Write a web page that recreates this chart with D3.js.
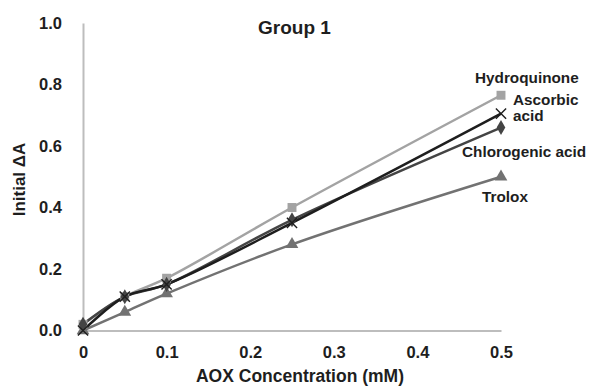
<!DOCTYPE html>
<html>
<head>
<meta charset="utf-8">
<script src="https://cdn.jsdelivr.net/npm/d3@7"></script>
<style>
  body { margin: 0; background: #fff; }
  text { font-family: "Liberation Sans", Arial, sans-serif; font-weight: bold; }
</style>
</head>
<body>
<div id="chart"></div>
<script>
var conc = [0, 0.05, 0.1, 0.25, 0.5];
var hydroquinone = [0.02, 0.11, 0.17, 0.40, 0.765];
var ascorbic = [0.00, 0.11, 0.15, 0.35, 0.705];
var chlorogenic = [0.02, 0.11, 0.15, 0.36, 0.66];
var trolox = [0.00, 0.06, 0.12, 0.28, 0.50];
var xTicks = [0, 0.1, 0.2, 0.3, 0.4, 0.5];
var yTicks = [0, 0.2, 0.4, 0.6, 0.8, 1.0];

var series = [
  {name: 'Hydroquinone', vals: hydroquinone, color: '#a3a3a3', mark: 'square'},
  {name: 'Trolox', vals: trolox, color: '#727272', mark: 'triangle'},
  {name: 'Chlorogenic acid', vals: chlorogenic, color: '#444', mark: 'diamond'},
  {name: 'Ascorbic acid', vals: ascorbic, color: '#1e1e1e', mark: 'cross'}
];

var w = 591, h = 387;
var m = {left: 83, right: 90, top: 23, bottom: 56.5};

var svg = d3.select('#chart').append('svg')
  .attr('width', w).attr('height', h);

var x = d3.scaleLinear().domain([0, 0.5]).range([m.left, w - m.right]);
var y = d3.scaleLinear().domain([0, 1]).range([h - m.bottom, m.top]);

// axes
svg.append('g').attr('transform', 'translate(0,' + y(0) + ')')
  .call(d3.axisBottom(x).tickValues(xTicks).tickSize(0).tickPadding(16)
    .tickFormat(function(d){ return d === 0 ? '0' : d3.format('.1f')(d); }));
svg.append('g').attr('transform', 'translate(' + x(0) + ',0)')
  .call(d3.axisLeft(y).tickValues(yTicks).tickSize(0).tickPadding(21)
    .tickFormat(d3.format('.1f')));
svg.selectAll('.domain').attr('stroke', '#bdbdbd').attr('stroke-width', 2);
svg.selectAll('.tick text').attr('font-size', 16.5).attr('fill', '#1e1e1e')
  .attr('font-family', '"Liberation Sans", Arial, sans-serif').attr('font-weight', 'bold');

// lines
var line = d3.line()
  .x(function(d, i){ return x(conc[i]); })
  .y(function(d){ return y(d); })
  .curve(d3.curveCatmullRom.alpha(0.5));

series.forEach(function(s){
  svg.append('path')
    .attr('d', line(s.vals))
    .attr('fill', 'none')
    .attr('stroke', s.color)
    .attr('stroke-width', 2.5);
});

var sym = {
  square: d3.symbol().type(d3.symbolSquare).size(80),
  triangle: d3.symbol().type(d3.symbolTriangle).size(70),
  diamond: d3.symbol().type(d3.symbolDiamond).size(65),
  cross: d3.symbol().type(d3.symbolX).size(70)
};

series.forEach(function(s){
  svg.selectAll(null)
    .data(s.vals)
    .enter()
    .append('path')
    .attr('transform', function(d, i){ return 'translate(' + x(conc[i]) + ',' + y(d) + ')'; })
    .attr('d', sym[s.mark])
    .attr('fill', s.mark === 'cross' ? 'none' : s.color)
    .attr('stroke', s.mark === 'cross' ? s.color : 'none')
    .attr('stroke-width', 1.4);
});

// series labels
var labels = [
  {t: 'Hydroquinone', x: 475, y: 83},
  {t: 'Ascorbic', x: 513, y: 105},
  {t: 'acid', x: 513, y: 121},
  {t: 'Chlorogenic acid', x: 462, y: 157},
  {t: 'Trolox', x: 482, y: 202}
];
svg.selectAll('.lbl')
  .data(labels)
  .enter()
  .append('text')
  .attr('class', 'lbl')
  .attr('x', function(d){ return d.x; })
  .attr('y', function(d){ return d.y; })
  .attr('font-size', 15.3)
  .attr('fill', '#1e1e1e')
  .text(function(d){ return d.t; });

// title
svg.append('text')
  .attr('x', 294.5).attr('y', 34)
  .attr('text-anchor', 'middle')
  .attr('font-size', 19)
  .attr('fill', '#1e1e1e')
  .text('Group 1');

// axis titles
svg.append('text')
  .attr('x', 300).attr('y', 381.5)
  .attr('text-anchor', 'middle')
  .attr('font-size', 17.5)
  .attr('fill', '#1e1e1e')
  .text('AOX Concentration (mM)');

svg.append('text')
  .attr('transform', 'translate(25,179.5) rotate(-90)')
  .attr('text-anchor', 'middle')
  .attr('font-size', 17)
  .attr('fill', '#1e1e1e')
  .text('Initial ΔA');
</script>
</body>
</html>
